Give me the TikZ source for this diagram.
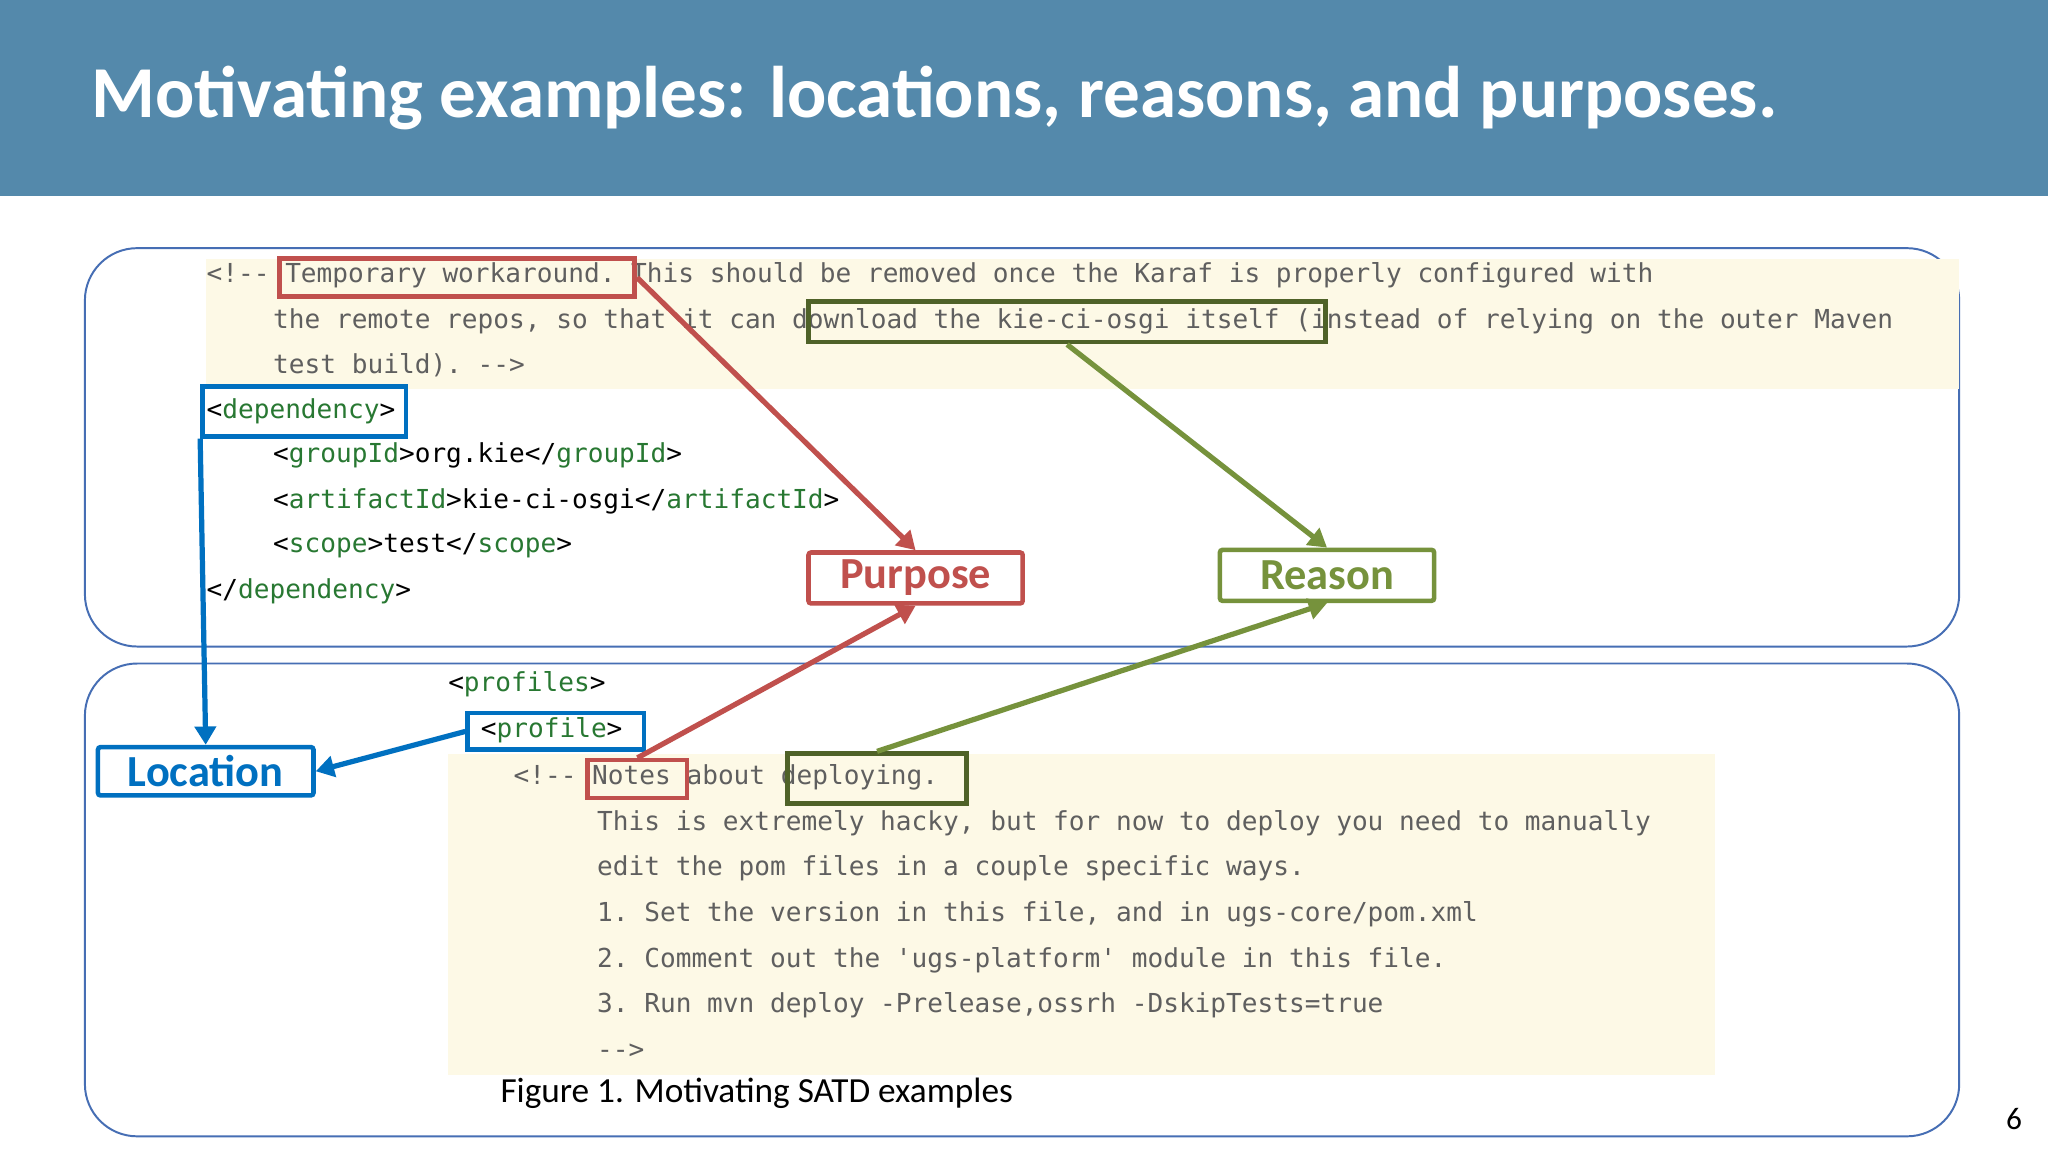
\documentclass[tikz,border=0pt]{standalone}
\usepackage{fontspec}
\setmainfont{Carlito}
\setmonofont{DejaVu Sans Mono}
\usetikzlibrary{arrows.meta}
\definecolor{hdr}{RGB}{84,137,171}
\definecolor{frm}{RGB}{70,110,180}
\definecolor{rd}{RGB}{192,80,77}
\definecolor{og}{RGB}{118,146,60}
\definecolor{dg}{RGB}{79,98,40}
\definecolor{bl}{RGB}{0,112,192}
\definecolor{tagc}{RGB}{40,120,50}
\definecolor{cmt}{RGB}{95,95,95}
\definecolor{yel}{RGB}{253,249,230}
\newcommand{\tg}[1]{\textcolor{tagc}{#1}}
\begin{document}
\begin{tikzpicture}[x=1pt,y=-1pt,
  codetxt/.style={anchor=west,inner sep=0pt,font=\fontsize{20}{20}\selectfont\ttfamily},
  cmtxt/.style={codetxt,text=cmt},
  hl/.style={draw=#1,line width=3.5pt,inner sep=0pt},
  lab/.style={draw=#1,text=#1,line width=3.5pt,rounded corners=2pt,inner sep=0pt,font=\fontsize{34}{34}\selectfont\bfseries},
  arr/.style={draw=#1,line width=4pt,-{Triangle[length=14pt,width=16pt]}},
  framebox/.style={draw=frm,line width=1.5pt,rounded corners=40pt}]
\useasboundingbox (0,0) rectangle (1568,882);
\fill[white] (0,0) rectangle (1568,882);
\fill[hdr] (0,0) rectangle (1568,150);
\node[anchor=west,text=white,font=\fontsize{56}{56}\selectfont\bfseries,inner sep=0pt] (title) at (70,75) {Motivating examples: locations, reasons, and purposes.};
\draw[framebox] (65,190) rectangle (1500,495);
\draw[framebox] (65,508) rectangle (1500,870);
\fill[yel] (158,198) rectangle (1500,298);
\fill[yel] (343,577) rectangle (1313,823);
% top code
\node[cmtxt] (l1) at (158,211) {<!-- Temporary workaround. This should be removed once the Karaf is properly configured with};
\node[cmtxt] (l2) at (209,246) {the remote repos, so that it can download the kie-ci-osgi itself (instead of relying on the outer Maven};
\node[cmtxt] (l3) at (209,280) {test build). -->};
\node[codetxt] (l4) at (158,315) {<\tg{dependency}>};
\node[codetxt] (l5) at (209,349) {<\tg{groupId}>org.kie</\tg{groupId}>};
\node[codetxt] (l6) at (209,384) {<\tg{artifactId}>kie-ci-osgi</\tg{artifactId}>};
\node[codetxt] (l7) at (209,418) {<\tg{scope}>test</\tg{scope}>};
\node[codetxt] (l8) at (158,453) {</\tg{dependency}>};
% bottom code
\node[codetxt] (m1) at (343,524) {<\tg{profiles}>};
\node[codetxt] (m2) at (368,559) {<\tg{profile}>};
\node[cmtxt] (m3) at (393,595) {<!-- Notes about deploying.};
\node[cmtxt] (m4) at (457,630) {This is extremely hacky, but for now to deploy you need to manually};
\node[cmtxt] (m5) at (457,665) {edit the pom files in a couple specific ways.};
\node[cmtxt] (m6) at (457,700) {1. Set the version in this file, and in ugs-core/pom.xml};
\node[cmtxt] (m7) at (457,735) {2. Comment out the 'ugs-platform' module in this file.};
\node[cmtxt] (m8) at (457,770) {3. Run mvn deploy -Prelease,ossrh -DskipTests=true};
\node[cmtxt] (m9) at (457,805) {-->};
\node[anchor=west,inner sep=0pt,font=\fontsize{27}{27}\selectfont] (cap) at (383,837) {Figure 1. Motivating SATD examples};
\node[inner sep=0pt,font=\fontsize{24}{24}\selectfont] (pg) at (1542,857) {6};
% highlights
\node[hl=rd,minimum width=272pt,minimum height=29pt] (tw) at (350,212.5) {};
\node[hl=dg,minimum width=396pt,minimum height=31pt] (dl) at (817,246.5) {};
\node[hl=bl,minimum width=156pt,minimum height=38pt] (dep) at (233,315) {};
\node[hl=bl,minimum width=135pt,minimum height=28pt] (prof) at (425.5,560) {};
\node[hl=rd,minimum width=76pt,minimum height=29pt] (notes) at (488,596.5) {};
\node[hl=dg,minimum width=137pt,minimum height=38pt] (dpl) at (671.5,596) {};
% labels
\node[lab=rd,minimum width=164pt,minimum height=39pt] (purp) at (701,442.5) {Purpose};
\node[lab=og,minimum width=164pt,minimum height=39pt] (reas) at (1016,440.5) {Reason};
\node[lab=bl,minimum width=165pt,minimum height=37pt] (loc) at (157.5,590.5) {Location};
% arrows
\draw[arr=rd] (tw.east) -- (purp.north);
\draw[arr=rd] (notes.north) -- (purp.south);
\draw[arr=og] (dl.south) -- (reas.north);
\draw[arr=og] (dpl.north) -- (reas.south);
\draw[arr=bl] (dep.south west) -- (loc.north);
\draw[arr=bl] (prof.west) -- (loc.east);
\end{tikzpicture}
\end{document}
